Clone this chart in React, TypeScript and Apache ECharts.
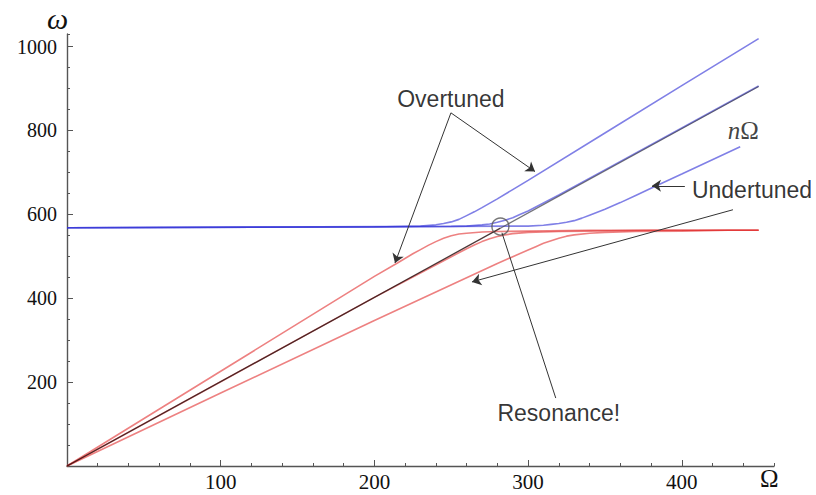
import React, { useEffect, useRef } from "react";
import * as echarts from "echarts";

// Frequencies: [Ω, ω]
const overtunedUpper = [[0, 568], [200, 570], [230, 572], [240, 575], [245, 578], [250, 582], [255, 588], [260, 597], [265, 606], [270, 616], [280, 637], [290, 659], [300, 681], [350, 794], [400, 907], [450, 1019]];
const overtunedLower = [[0, 0], [100, 226], [200, 452], [215, 484], [225, 506], [230, 516], [235, 526], [240, 535], [245, 543], [250, 549], [255, 553], [260, 555], [270, 558], [280, 559], [300, 560], [340, 562], [450, 562]];
const exactUpper = [[0, 568], [250, 571], [260, 572], [270, 575], [275, 577], [280, 581], [285, 586], [290, 592], [295, 600], [300, 608], [310, 627], [320, 646], [350, 706], [400, 806], [450, 906]];
const exactLower = [[0, 0], [100, 201], [200, 402], [250, 499], [260, 518], [265, 527], [270, 535], [275, 542], [280, 547], [285, 551], [290, 554], [300, 557], [310, 558], [320, 559], [340, 560], [380, 562], [450, 562]];
const undertunedUpper = [[0, 568], [300, 572], [310, 574], [315, 576], [320, 578], [325, 581], [330, 585], [335, 591], [340, 598], [350, 612], [360, 628], [370, 645], [380, 662], [400, 696], [438, 761]];
const undertunedLower = [[0, 0], [100, 174], [200, 347], [280, 483], [290, 499], [300, 515], [305, 523], [310, 531], [315, 537], [320, 543], [325, 548], [330, 551], [340, 555], [350, 557], [370, 559], [400, 560], [430, 562], [450, 562]];
// nΩ line: origin, resonance, end
const nOmegaLine = [[0, 0], [282, 567], [450, 905]];

const xTicksMajor = 100;
const xTicksMinor = 20;
const yTicksMajor = 200;
const yTicksMinor = 50;

// annotation anchors in data coordinates
const annotationTexts = [
  { text: "Overtuned", at: [249.8, 876] },
  { text: "Undertuned", at: [445.7, 659] },
  { text: "Resonance!", at: [320, 126] },
];
const nOmegaLabelAt = [440, 799];
const resonancePoint = [282, 571];
const arrows = [
  { from: [249.8, 842], to: [213.4, 484] },
  { from: [249.8, 842], to: [304.5, 702] },
  { from: [402, 668], to: [380.6, 668] },
  { from: [433.3, 611], to: [263.5, 439] },
];
const plainLines = [{ from: [283, 556], to: [318, 162] }];

const BLUE = "rgba(50,50,215,0.62)";
const RED = "rgba(225,45,45,0.6)";

export default function App() {
  const ref = useRef<HTMLDivElement>(null);
  useEffect(() => {
    const chart = echarts.init(ref.current!, null, { renderer: "svg" });
    const serif = "Liberation Serif";
    const sans = "Liberation Sans";
    const curve = (data: number[][], color: string, z = 2, width = 1.6) => ({
      type: "line",
      data,
      showSymbol: false,
      smooth: false,
      lineStyle: { color, width },
      silent: true,
      z,
    });
    const axisLineStyle = { color: "#555", width: 1.4 };
    chart.setOption({
      animation: false,
      grid: { left: 67, right: 42, top: 34, bottom: 29 },
      xAxis: [
        {
          type: "value", min: 0, max: 460, interval: xTicksMajor,
          axisLine: { lineStyle: axisLineStyle },
          axisTick: { inside: true, length: 6, lineStyle: { color: "#555" } },
          axisLabel: {
            showMaxLabel: false, showMinLabel: false, margin: 5,
            fontFamily: serif, fontSize: 21, color: "#111",
            formatter: (v: number) => (v % 100 === 0 && v > 0 && v <= 400 ? String(v) : ""),
          },
          splitLine: { show: false },
        },
        {
          type: "value", min: 0, max: 460, interval: xTicksMinor, position: "bottom",
          axisLine: { show: false },
          axisTick: { inside: true, length: 3, lineStyle: { color: "#555" } },
          axisLabel: { show: false },
          splitLine: { show: false },
        },
      ],
      yAxis: [
        {
          type: "value", min: 0, max: 1030, interval: yTicksMajor,
          axisLine: { show: true, lineStyle: axisLineStyle },
          axisTick: { show: true, inside: true, length: 6, lineStyle: { color: "#555" } },
          axisLabel: {
            showMaxLabel: false, showMinLabel: false, margin: 10,
            fontFamily: serif, fontSize: 20, color: "#111",
            formatter: (v: number) => (v % 200 === 0 && v > 0 && v <= 1000 ? String(v) : ""),
          },
          splitLine: { show: false },
        },
        {
          type: "value", min: 0, max: 1030, interval: yTicksMinor, position: "left",
          axisLine: { show: false },
          axisTick: { show: true, inside: true, length: 3, lineStyle: { color: "#555" } },
          axisLabel: { show: false },
          splitLine: { show: false },
        },
      ],
      series: [
        curve(overtunedLower, RED),
        curve(exactLower, RED),
        curve(undertunedLower, RED),
        curve(overtunedUpper, BLUE),
        curve(exactUpper, BLUE),
        curve(undertunedUpper, BLUE),
        curve(nOmegaLine.slice(0, 2), "rgba(45,20,20,0.85)", 3, 1.3),
        curve(nOmegaLine.slice(1), "rgba(70,70,80,0.75)", 3, 1.2),
        {
          type: "line",
          data: [],
          showSymbol: false,
          silent: true,
          z: 3,
          markLine: {
            silent: true,
            animation: false,
            symbolSize: 9,
            label: { show: false },
            lineStyle: { color: "#333", width: 1, type: "solid" },
            emphasis: { disabled: true },
            data: [
              ...arrows.map((a) => [
                { coord: a.from, symbol: "none" },
                { coord: a.to, symbol: "arrow" },
              ]),
              ...plainLines.map((a) => [
                { coord: a.from, symbol: "none" },
                { coord: a.to, symbol: "none" },
              ]),
            ],
          },
        },
        {
          type: "scatter",
          data: [resonancePoint],
          symbol: "circle",
          symbolSize: 17,
          itemStyle: { color: "rgba(0,0,0,0)", borderColor: "#555", borderWidth: 1.4 },
          silent: true,
          z: 4,
        },
        {
          type: "scatter",
          symbolSize: 1,
          itemStyle: { color: "rgba(0,0,0,0)" },
          silent: true,
          z: 5,
          data: [
            ...annotationTexts.map((t) => ({
              value: t.at,
              label: {
                show: true, position: "inside", formatter: t.text,
                fontFamily: sans, fontSize: 23, color: "#000",
              },
            })),
            {
              value: nOmegaLabelAt,
              label: {
                show: true, position: "inside", formatter: "{n|n}{o|Ω}",
                rich: {
                  n: { fontFamily: serif, fontStyle: "italic", fontSize: 25, color: "#111" },
                  o: { fontFamily: serif, fontSize: 25, color: "#111" },
                },
              },
            },
          ],
        },
      ],
      graphic: [
        {
          type: "text", left: 47, top: 3,
          style: { text: "ω", font: `italic 30px "${serif}"`, fill: "#111" },
        },
        {
          type: "text", left: 760, top: 466,
          style: { text: "Ω", font: `25px "${serif}"`, fill: "#111" },
        },
      ],
    });
    return () => chart.dispose();
  }, []);
  return (
    <div
      ref={ref}
      style={{ position: "fixed", left: 0, top: 0, width: 816, height: 495, background: "#fff" }}
    />
  );
}
